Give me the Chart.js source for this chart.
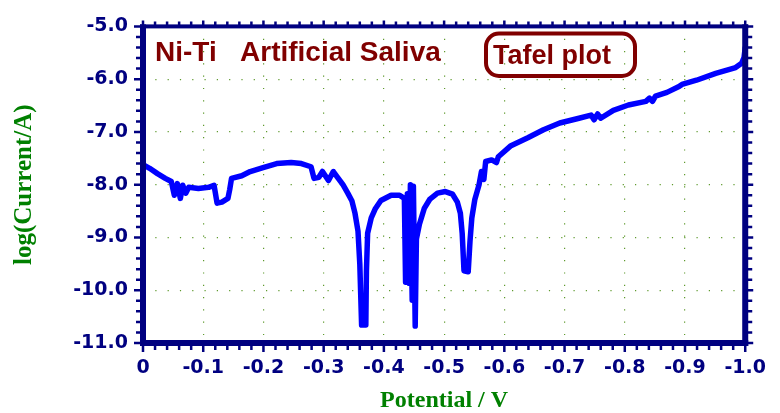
<!DOCTYPE html>
<html>
<head>
<meta charset="utf-8">
<script src="https://cdn.jsdelivr.net/npm/chart.js@4.4.1/dist/chart.umd.min.js"></script>
<style>
  html, body { margin: 0; padding: 0; background: #ffffff; }
  canvas { display: block; }
</style>
</head>
<body>
<canvas id="c" width="780" height="413"></canvas>
<script>
// ---- data (Potential in V, log(Current/A)) ----
const potential = [
  0.000, -0.011, -0.024, -0.037, -0.047, -0.052, -0.057, -0.062, -0.066, -0.071,
  -0.076, -0.092, -0.109, -0.118, -0.123, -0.131, -0.141, -0.144, -0.147, -0.164,
  -0.178, -0.198, -0.222, -0.246, -0.263, -0.279, -0.284, -0.292, -0.298, -0.308,
  -0.316, -0.323, -0.332, -0.340, -0.347, -0.352, -0.357, -0.360, -0.363, -0.370,
  -0.371, -0.373, -0.379, -0.386, -0.395, -0.412, -0.426, -0.434, -0.436, -0.439,
  -0.442, -0.444, -0.447, -0.449, -0.452, -0.454, -0.459, -0.467, -0.476, -0.489,
  -0.502, -0.514, -0.522, -0.527, -0.530, -0.533, -0.540, -0.543, -0.546, -0.551,
  -0.558, -0.562, -0.566, -0.569, -0.579, -0.587, -0.590, -0.611, -0.639, -0.665,
  -0.692, -0.724, -0.744, -0.749, -0.755, -0.760, -0.781, -0.806, -0.835, -0.841,
  -0.846, -0.851, -0.870, -0.890, -0.895, -0.919, -0.951, -0.984, -0.994, -0.998,
  -1.000
];
const logCurrent = [
  -7.62, -7.69, -7.79, -7.88, -7.94, -8.20, -7.98, -8.26, -8.01, -8.16,
  -8.05, -8.07, -8.05, -8.01, -8.35, -8.33, -8.26, -8.09, -7.88, -7.83,
  -7.75, -7.68, -7.60, -7.58, -7.60, -7.66, -7.88, -7.86, -7.75, -7.92,
  -7.75, -7.86, -8.00, -8.16, -8.31, -8.54, -8.88, -9.50, -10.66, -10.66,
  -9.63, -8.92, -8.63, -8.45, -8.30, -8.20, -8.20, -8.26, -9.85, -8.17,
  -9.87, -8.00, -10.19, -8.03, -10.68, -9.03, -8.75, -8.45, -8.28, -8.16,
  -8.13, -8.18, -8.33, -8.54, -8.92, -9.63, -9.65, -9.07, -8.63, -8.28,
  -8.00, -7.75, -7.90, -7.56, -7.53, -7.58, -7.47, -7.26, -7.11, -6.96,
  -6.83, -6.74, -6.68, -6.77, -6.66, -6.74, -6.59, -6.49, -6.42, -6.36,
  -6.42, -6.32, -6.25, -6.14, -6.10, -6.02, -5.89, -5.78, -5.70, -5.59,
  -5.40
];
// axis ranges / tick settings
const xRange = [-1.0, 0.0];
const yRange = [-11.0, -5.0];
const xStep = 0.1;
const yStep = 1.0;
const xMinorPerMajor = 5;
const yMinorPerMajor = 5;
// texts
const xTitle = 'Potential / V';
const yTitle = 'log(Current/A)';
const noteText = 'Ni-Ti   Artificial Saliva';
const boxText = 'Tafel plot';

const NAVY = '#000080';
const MAROON = '#800000';
const GREEN = '#008000';
const GRID = '#5f9a2e';

const points = potential.map((v, i) => ({ x: v, y: logCurrent[i] }));

const framePlugin = {
  id: 'frame',
  afterDatasetsDraw(chart) {
    const { ctx, chartArea: { left, right, top, bottom }, scales: { x, y } } = chart;
    ctx.save();
    ctx.fillStyle = NAVY;
    ctx.strokeStyle = NAVY;
    // ticks (major + minor) on all four sides
    ctx.lineWidth = 2.5;
    ctx.beginPath();
    const nx = Math.round((xRange[1] - xRange[0]) / xStep) * xMinorPerMajor;
    for (let i = 0; i <= nx; i++) {
      const v = xRange[0] + i * xStep / xMinorPerMajor;
      const px = x.getPixelForValue(v);
      const major = i % xMinorPerMajor === 0;
      ctx.moveTo(px, bottom); ctx.lineTo(px, bottom + (major ? 9 : 7));
      ctx.moveTo(px, top); ctx.lineTo(px, top - (major ? 6 : 5));
    }
    const ny = Math.round((yRange[1] - yRange[0]) / yStep) * yMinorPerMajor;
    for (let i = 0; i <= ny; i++) {
      const v = yRange[0] + i * yStep / yMinorPerMajor;
      const py = y.getPixelForValue(v);
      const major = i % yMinorPerMajor === 0;
      ctx.moveTo(left, py); ctx.lineTo(left - (major ? 9 : 7), py);
      ctx.moveTo(right, py); ctx.lineTo(right + (major ? 8 : 7), py);
    }
    ctx.stroke();
    // frame bands
    ctx.fillRect(left - 3, top - 2, 6, bottom - top + 5);
    ctx.fillRect(right - 3, top - 2, 6, bottom - top + 5);
    ctx.fillRect(left - 3, bottom - 3, right - left + 6, 6);
    ctx.fillRect(left - 3, top - 2, right - left + 6, 4);

    // annotations
    ctx.fillStyle = MAROON;
    ctx.textBaseline = 'alphabetic';
    ctx.textAlign = 'left';
    ctx.font = 'bold 28px "Liberation Sans", Arial, sans-serif';
    ctx.fillText(noteText, 155, 61);
    ctx.font = 'bold 27px "Liberation Sans", Arial, sans-serif';
    ctx.fillText(boxText, 493, 64);
    ctx.strokeStyle = MAROON;
    ctx.lineWidth = 4;
    ctx.beginPath();
    ctx.roundRect(486, 33.5, 149, 42.5, 13);
    ctx.stroke();
    ctx.restore();
  }
};

new Chart(document.getElementById('c'), {
  type: 'scatter',
  data: {
    datasets: [{
      data: points,
      showLine: true,
      borderColor: '#0000ff',
      backgroundColor: '#0000ff',
      borderWidth: 5.5,
      pointRadius: 0,
      tension: 0,
      borderJoinStyle: 'round',
      borderCapStyle: 'round'
    }]
  },
  options: {
    responsive: false,
    animation: false,
    devicePixelRatio: 1,
    layout: { padding: { left: 0, right: 20, top: 23, bottom: 0 } },
    plugins: { legend: { display: false }, tooltip: { enabled: false } },
    scales: {
      x: {
        type: 'linear',
        min: xRange[0], max: xRange[1],
        reverse: true,
        afterFit: s => { s.height = 70; },
        border: { display: false, dash: [1.2, 11.1] },
        grid: { color: GRID, lineWidth: 1.2, drawTicks: false },
        ticks: {
          stepSize: xStep,
          padding: 14,
          color: NAVY,
          font: { family: '"DejaVu Sans"', weight: 'bold', size: 19 },
          callback: v => Math.abs(v) < 1e-9 ? '0' : Number(v).toFixed(1)
        },
        title: {
          display: true, text: xTitle, color: GREEN,
          font: { family: '"Liberation Serif", "Times New Roman", serif', weight: 'bold', size: 24, lineHeight: 1 },
          padding: { top: 0, bottom: 0 }
        }
      },
      y: {
        type: 'linear',
        min: yRange[0], max: yRange[1],
        afterFit: s => { s.width = 143; },
        border: { display: false, dash: [1.2, 11.1] },
        grid: { color: GRID, lineWidth: 1.2, drawTicks: false },
        ticks: {
          stepSize: yStep,
          padding: 15,
          color: NAVY,
          font: { family: '"DejaVu Sans"', weight: 'bold', size: 19 },
          callback: v => Number(v).toFixed(1)
        },
        title: {
          display: true, text: yTitle, color: GREEN,
          font: { family: '"Liberation Serif", "Times New Roman", serif', weight: 'bold', size: 25, lineHeight: 1 },
          padding: { top: 12, bottom: 0 }
        }
      }
    }
  },
  plugins: [framePlugin]
});
</script>
</body>
</html>
